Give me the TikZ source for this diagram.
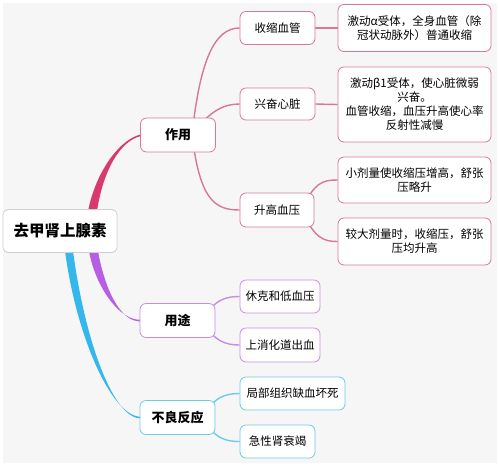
\documentclass[tikz,border=0pt]{standalone}
\usepackage{fontspec}
\setmainfont{Noto Sans CJK SC}
\usepackage{tikz}
\usetikzlibrary{positioning, calc, backgrounds}
\definecolor{pagegray}{HTML}{F6F6F7}
\definecolor{rootline}{HTML}{CFCFD2}
\definecolor{effline}{HTML}{D83A6E}
\definecolor{effbox}{HTML}{D8779A}
\definecolor{useline}{HTML}{B65FE2}
\definecolor{usebox}{HTML}{C98CE4}
\definecolor{sideline}{HTML}{35B7EE}
\definecolor{sidebox}{HTML}{6CCAEA}

\begin{document}
\begin{tikzpicture}[
  x=1pt, y=-1pt,
  rootbox/.style={rectangle, draw=rootline, thick, rounded corners=5pt, fill=white, align=center, font=\fontsize{15.5}{18}\selectfont\bfseries, minimum width=114pt, minimum height=43pt, inner sep=0pt},
  topic/.style={rectangle, thick, rounded corners=6pt, fill=white, align=center, font=\fontsize{13}{15}\selectfont\bfseries, minimum width=75pt, minimum height=34pt, inner sep=0pt},
  leaf/.style={rectangle, thick, rounded corners=6pt, fill=white, align=center, font=\fontsize{11.5}{14}\selectfont, minimum height=33pt, inner sep=0pt},
  eff/.style={draw=effbox},
  use/.style={draw=usebox},
  side/.style={draw=sidebox},
  link/.style={line width=1.4pt}
]
  \node[rootbox] (root) at (60,231) {去甲肾上腺素};

  \node[topic, eff] (zuoyong) at (178,135) {作用};
  \node[topic, use] (yongtu) at (177.5,320.5) {用途};
  \node[topic, side] (buliang) at (177.5,417.5) {不良反应};

  \node[leaf, eff, minimum width=75pt] (shousuo) at (277.5,28) {收缩血管};
  \node[leaf, eff, minimum width=75pt, minimum height=32pt] (xingfen) at (277.5,104) {兴奋心脏};
  \node[leaf, eff, minimum width=74pt, minimum height=34pt] (shenggao) at (277,210) {升高血压};

  \node[leaf, eff, minimum width=153pt, minimum height=47pt] (alpha) at (414.5,28) {激动α受体，全身血管（除\\冠状动脉外）普通收缩};
  \node[leaf, eff, minimum width=153pt, minimum height=75pt] (beta) at (414.5,104.5) {激动β1受体，使心脏微弱\\兴奋。\\血管收缩，血压升高使心率\\反射性减慢};
  \node[leaf, eff, minimum width=153pt, minimum height=46pt] (small) at (414.5,180) {小剂量使收缩压增高，舒张\\压略升};
  \node[leaf, eff, minimum width=153pt, minimum height=47pt] (large) at (414.5,241.5) {较大剂量时，收缩压，舒张\\压均升高};

  \node[leaf, use, minimum width=80pt] (xiuke) at (280,296.5) {休克和低血压};
  \node[leaf, use, minimum width=80pt, minimum height=34pt] (chuxue) at (280,345) {上消化道出血};

  \node[leaf, side, minimum width=105pt] (jubu) at (292.5,393.5) {局部组织缺血坏死};
  \node[leaf, side, minimum width=75pt] (shenshuai) at (277.5,441.5) {急性肾衰竭};

  \begin{scope}[on background layer]
    \fill[white] (0,0) rectangle (500,467);
    \fill[pagegray] (3,3) rectangle (497,463);

    % tapered main branches
    \fill[effline] ($(root.north)+(28,2)$) .. controls +(8,-40) and +(-22,4) .. ($(zuoyong.west)+(2,-0.8)$)
      -- ($(zuoyong.west)+(2,0.8)$) .. controls +(-22,4) and +(6,-40) .. ($(root.north)+(37,2)$) -- cycle;
    \fill[useline] ($(root.south)+(29,-2)$) .. controls +(6,35) and +(-22,2) .. ($(yongtu.west)+(2,-0.8)$)
      -- ($(yongtu.west)+(2,0.8)$) .. controls +(-22,2) and +(6,35) .. ($(root.south)+(38,-2)$) -- cycle;
    \fill[sideline] ($(root.south)+(5,-2)$) .. controls +(12,90) and +(-28,2) .. ($(buliang.west)+(2,-0.8)$)
      -- ($(buliang.west)+(2,0.8)$) .. controls +(-28,2) and +(12,90) .. ($(root.south)+(13,-2)$) -- cycle;

    % sub branches
    \draw[link, effbox] ($(zuoyong.center)+(14,0)$) .. controls +(8,-75) and +(-25,0) .. (shousuo.west);
    \draw[link, effbox] ($(zuoyong.center)+(14,0)$) .. controls +(18,-25) and +(-15,0) .. (xingfen.west);
    \draw[link, effbox] ($(zuoyong.center)+(14,0)$) .. controls +(8,65) and +(-25,0) .. (shenggao.west);
    \draw[link, effbox] (shousuo.east) -- (alpha.west);
    \draw[link, effbox] (xingfen.east) -- (beta.west);
    \draw[link, effbox] ($(shenggao.center)+(24,0)$) .. controls +(14,-28) and +(-15,0) .. (small.west);
    \draw[link, effbox] ($(shenggao.center)+(24,0)$) .. controls +(14,28) and +(-15,0) .. (large.west);

    \draw[link, usebox] ($(yongtu.center)+(26,0)$) .. controls +(10,-22) and +(-12,0) .. (xiuke.west);
    \draw[link, usebox] ($(yongtu.center)+(26,0)$) .. controls +(10,22) and +(-12,0) .. (chuxue.west);

    \draw[link, sidebox] ($(buliang.center)+(26,0)$) .. controls +(10,-22) and +(-12,0) .. (jubu.west);
    \draw[link, sidebox] ($(buliang.center)+(26,0)$) .. controls +(10,22) and +(-12,0) .. (shenshuai.west);
  \end{scope}
\end{tikzpicture}
\end{document}
